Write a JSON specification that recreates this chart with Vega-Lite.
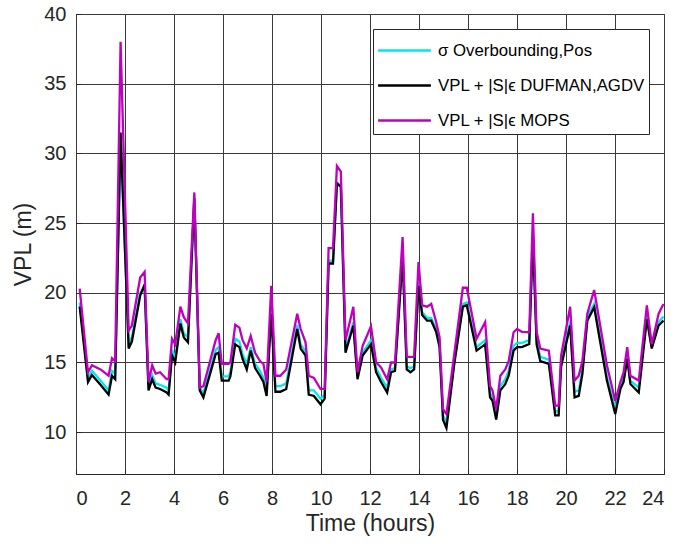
{
  "$schema": "https://vega.github.io/schema/vega-lite/v6.json",
  "width": 588,
  "height": 460,
  "autosize": {"type": "none"},
  "padding": {"left": 76, "top": 14, "right": 11, "bottom": 70},
  "background": "white",
  "config": {
    "font": "Liberation Sans",
    "view": {"stroke": "#262626", "strokeWidth": 1},
    "axis": {
      "labelFont": "Liberation Sans",
      "titleFont": "Liberation Sans",
      "labelFontSize": 20,
      "titleFontSize": 23,
      "labelColor": "#262626",
      "titleColor": "#262626",
      "titleFontWeight": "normal",
      "gridColor": "#3a3a3a",
      "gridOpacity": 1,
      "gridWidth": 1,
      "domain": false,
      "tickColor": "#262626",
      "tickSize": -5
    }
  },
  "data": {
    "values": [
      {"t":0.15,"c":19.3,"b":19.0,"m":20.3},
      {"t":0.49,"c":13.9,"b":13.6,"m":14.3},
      {"t":0.65,"c":14.4,"b":14.1,"m":14.8},
      {"t":1.0,"c":13.7,"b":13.4,"m":14.5},
      {"t":1.33,"c":13.0,"b":12.7,"m":14.05},
      {"t":1.47,"c":14.4,"b":14.05,"m":15.3},
      {"t":1.6,"c":14.2,"b":13.8,"m":15.1},
      {"t":1.82,"c":31.0,"b":31.5,"m":38.0},
      {"t":2.15,"c":16.4,"b":16.0,"m":17.3},
      {"t":2.28,"c":16.8,"b":16.5,"m":17.65},
      {"t":2.62,"c":20.0,"b":19.8,"m":21.1},
      {"t":2.8,"c":20.4,"b":20.6,"m":21.5},
      {"t":2.96,"c":13.3,"b":13.0,"m":13.6},
      {"t":3.11,"c":14.1,"b":13.8,"m":14.8},
      {"t":3.25,"c":13.5,"b":13.2,"m":14.2},
      {"t":3.43,"c":13.4,"b":13.1,"m":14.3},
      {"t":3.7,"c":13.2,"b":12.85,"m":13.8},
      {"t":3.78,"c":13.0,"b":12.7,"m":13.8},
      {"t":3.92,"c":15.9,"b":15.5,"m":16.7},
      {"t":4.05,"c":15.3,"b":15.0,"m":16.3},
      {"t":4.26,"c":18.1,"b":17.8,"m":19.0},
      {"t":4.4,"c":17.1,"b":16.8,"m":18.25},
      {"t":4.57,"c":16.8,"b":16.45,"m":17.8},
      {"t":4.83,"c":26.5,"b":26.8,"m":27.2},
      {"t":5.05,"c":13.2,"b":13.0,"m":13.2},
      {"t":5.2,"c":12.8,"b":12.5,"m":13.3},
      {"t":5.7,"c":15.9,"b":15.6,"m":16.6},
      {"t":5.82,"c":16.1,"b":15.7,"m":17.1},
      {"t":5.95,"c":14.0,"b":13.7,"m":14.9},
      {"t":6.23,"c":14.0,"b":13.7,"m":14.9},
      {"t":6.3,"c":14.3,"b":14.0,"m":15.0},
      {"t":6.5,"c":16.7,"b":16.3,"m":17.7},
      {"t":6.67,"c":16.5,"b":16.1,"m":17.5},
      {"t":6.8,"c":15.6,"b":15.25,"m":16.6},
      {"t":6.97,"c":14.9,"b":14.5,"m":16.0},
      {"t":7.13,"c":16.1,"b":15.85,"m":16.9},
      {"t":7.31,"c":14.9,"b":14.6,"m":15.7},
      {"t":7.51,"c":14.4,"b":14.05,"m":15.1},
      {"t":7.65,"c":13.9,"b":13.6,"m":14.9},
      {"t":7.78,"c":13.0,"b":12.6,"m":13.6},
      {"t":7.97,"c":19.0,"b":18.5,"m":20.5},
      {"t":8.14,"c":13.3,"b":12.9,"m":14.05},
      {"t":8.34,"c":13.3,"b":12.9,"m":14.05},
      {"t":8.58,"c":13.5,"b":13.1,"m":14.5},
      {"t":9.03,"c":17.7,"b":17.4,"m":18.5},
      {"t":9.17,"c":16.3,"b":16.0,"m":17.4},
      {"t":9.37,"c":15.8,"b":15.5,"m":16.45},
      {"t":9.5,"c":13.0,"b":12.7,"m":14.05},
      {"t":9.71,"c":13.0,"b":12.6,"m":13.9},
      {"t":9.98,"c":12.4,"b":12.0,"m":13.1},
      {"t":10.15,"c":12.7,"b":12.4,"m":13.1},
      {"t":10.31,"c":22.3,"b":22.1,"m":23.2},
      {"t":10.49,"c":22.3,"b":22.1,"m":23.2},
      {"t":10.65,"c":27.9,"b":27.85,"m":29.1},
      {"t":10.81,"c":27.7,"b":27.6,"m":28.7},
      {"t":11.0,"c":15.9,"b":15.7,"m":16.6},
      {"t":11.32,"c":17.9,"b":17.65,"m":19.0},
      {"t":11.49,"c":14.0,"b":13.8,"m":14.3},
      {"t":11.7,"c":15.7,"b":15.5,"m":16.2},
      {"t":12.04,"c":16.6,"b":16.3,"m":17.6},
      {"t":12.25,"c":14.6,"b":14.3,"m":15.0},
      {"t":12.45,"c":13.9,"b":13.6,"m":14.65},
      {"t":12.7,"c":13.2,"b":12.85,"m":13.8},
      {"t":12.86,"c":14.5,"b":14.3,"m":15.0},
      {"t":13.02,"c":14.6,"b":14.4,"m":15.0},
      {"t":13.33,"c":22.8,"b":22.5,"m":24.0},
      {"t":13.5,"c":14.7,"b":14.5,"m":15.4},
      {"t":13.65,"c":14.6,"b":14.3,"m":15.4},
      {"t":13.8,"c":14.7,"b":14.5,"m":15.4},
      {"t":13.98,"c":20.8,"b":20.5,"m":22.2},
      {"t":14.13,"c":18.6,"b":18.4,"m":19.1},
      {"t":14.33,"c":18.2,"b":18.0,"m":19.0},
      {"t":14.5,"c":18.2,"b":18.0,"m":19.2},
      {"t":14.7,"c":17.4,"b":17.2,"m":17.9},
      {"t":14.84,"c":16.3,"b":16.1,"m":16.8},
      {"t":14.98,"c":11.2,"b":10.9,"m":11.65},
      {"t":15.12,"c":10.7,"b":10.3,"m":11.3},
      {"t":15.44,"c":15.1,"b":14.9,"m":15.6},
      {"t":15.79,"c":19.2,"b":19.0,"m":20.36},
      {"t":15.95,"c":19.3,"b":19.1,"m":20.36},
      {"t":16.35,"c":16.1,"b":15.85,"m":16.7},
      {"t":16.7,"c":16.6,"b":16.3,"m":17.9},
      {"t":16.9,"c":12.8,"b":12.5,"m":13.3},
      {"t":17.0,"c":12.5,"b":12.25,"m":13.0},
      {"t":17.15,"c":11.2,"b":10.9,"m":11.65},
      {"t":17.32,"c":13.3,"b":13.0,"m":14.05},
      {"t":17.52,"c":13.8,"b":13.45,"m":14.5},
      {"t":17.66,"c":14.4,"b":14.05,"m":15.1},
      {"t":17.86,"c":16.2,"b":15.85,"m":17.17},
      {"t":18.0,"c":16.4,"b":16.1,"m":17.4},
      {"t":18.2,"c":16.4,"b":16.1,"m":17.2},
      {"t":18.5,"c":16.6,"b":16.33,"m":17.17},
      {"t":18.65,"c":24.3,"b":24.0,"m":25.7},
      {"t":18.8,"c":16.6,"b":16.3,"m":17.2},
      {"t":18.95,"c":15.4,"b":15.1,"m":16.0},
      {"t":19.3,"c":15.2,"b":14.9,"m":15.85},
      {"t":19.56,"c":11.5,"b":11.2,"m":11.9},
      {"t":19.7,"c":11.5,"b":11.2,"m":11.9},
      {"t":19.8,"c":15.0,"b":14.7,"m":15.5},
      {"t":20.17,"c":17.9,"b":17.65,"m":19.0},
      {"t":20.35,"c":12.9,"b":12.5,"m":13.7},
      {"t":20.52,"c":13.0,"b":12.6,"m":14.05},
      {"t":20.67,"c":14.5,"b":14.2,"m":15.1},
      {"t":20.87,"c":18.3,"b":18.0,"m":18.5},
      {"t":21.15,"c":19.2,"b":18.96,"m":20.2},
      {"t":21.67,"c":14.0,"b":13.7,"m":14.8},
      {"t":22.01,"c":11.7,"b":11.3,"m":12.25},
      {"t":22.22,"c":13.3,"b":13.1,"m":13.6},
      {"t":22.35,"c":13.8,"b":13.6,"m":14.3},
      {"t":22.5,"c":15.5,"b":15.25,"m":16.1},
      {"t":22.63,"c":13.7,"b":13.45,"m":14.05},
      {"t":22.97,"c":13.2,"b":12.85,"m":13.7},
      {"t":23.3,"c":18.4,"b":18.1,"m":19.1},
      {"t":23.5,"c":16.2,"b":16.0,"m":16.3},
      {"t":23.78,"c":17.9,"b":17.65,"m":18.5},
      {"t":23.98,"c":18.3,"b":18.0,"m":19.2}
    ]
  },
  "transform": [{"fold": ["c", "b", "m"], "as": ["series", "v"]}],
  "mark": {"type": "line", "strokeWidth": 2.3, "clip": true},
  "encoding": {
    "x": {
      "field": "t",
      "type": "quantitative",
      "scale": {"domain": [0, 24], "nice": false},
      "axis": {"values": [0,2,4,6,8,10,12,14,16,18,20,22,24], "title": "Time (hours)", "labelPadding": 19, "titlePadding": 4, "grid": true}
    },
    "y": {
      "field": "v",
      "type": "quantitative",
      "scale": {"domain": [7, 40], "nice": false, "zero": false},
      "axis": {"values": [10,15,20,25,30,35,40], "title": "VPL (m)", "labelPadding": 15, "titlePadding": 8, "grid": true}
    },
    "color": {
      "field": "series",
      "type": "nominal",
      "scale": {"domain": ["c", "b", "m"], "range": ["#00e8ee", "#000000", "#bf00bf"]},
      "legend": {
        "title": null,
        "orient": "none",
        "legendX": 297,
        "legendY": 15,
        "direction": "vertical",
        "fillColor": "white",
        "strokeColor": "#262626",
        "padding": 4,
        "symbolType": "M-1.65,0H1.65",
        "symbolFillColor": "transparent",
        "symbolStrokeWidth": 2.3,
        "symbolSize": 1024,
        "symbolOffset": 10,
        "rowPadding": 8,
        "labelFont": "Liberation Sans",
        "labelFontSize": 16.8,
        "labelColor": "#000000",
        "labelLimit": 300,
        "labelOffset": 16,
        "labelExpr": "datum.label == 'c' ? 'σ Overbounding,Pos' : datum.label == 'b' ? 'VPL + |S|ϵ DUFMAN,AGDV' : 'VPL + |S|ϵ MOPS'"
      }
    },
    "order": {"field": "t", "type": "quantitative"}
  }
}
